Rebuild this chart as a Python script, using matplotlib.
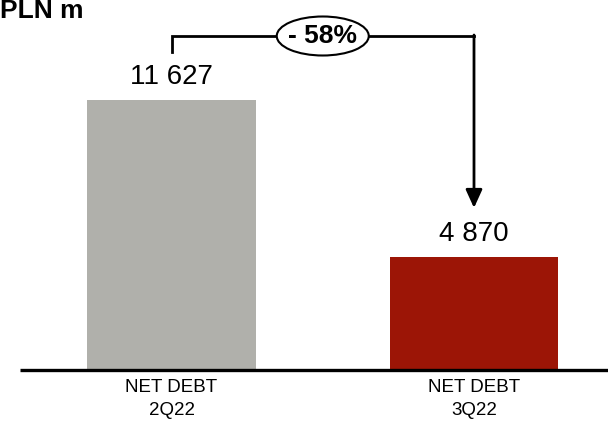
import matplotlib.pyplot as plt
from matplotlib.patches import Ellipse

categories = ["NET DEBT\n2Q22", "NET DEBT\n3Q22"]
values = [11627, 4870]
value_labels = ["11 627", "4 870"]
change_label = "- 58%"
unit_label = "PLN m"
colors = ["#B0B0AB", "#9C1506"]

plt.rcParams["font.family"] = ["Liberation Sans", "DejaVu Sans"]

fig = plt.figure(figsize=(6.08, 4.30), dpi=100)
ax = fig.add_axes([0, 60 / 430, 1, 370 / 430])
ax.axis("off")

px_per_unit = 302.5
ax.set_xlim(-171.5 / px_per_unit, (608 - 171.5) / px_per_unit)
ymax = 370 * values[0] / 270
ax.set_ylim(0, ymax)
py = ymax / 370  # data units per pixel

x = list(range(len(categories)))
ax.bar(x, values, width=168 / px_per_unit, color=colors)

# baseline
ax.plot([(20 - 171.5) / px_per_unit, (608 - 171.5) / px_per_unit], [0, 0],
        color="black", lw=2.4, solid_capstyle="butt", clip_on=False)

for xi, v, lab in zip(x, values, value_labels):
    ax.text(xi, v + 10 * py, lab, ha="center", va="bottom", fontsize=20)

for xi, cat in zip(x, categories):
    ax.text(xi, -9 * py, cat, ha="center", va="top", fontsize=13.5, linespacing=1.45)

# bracket with arrow
y_top = values[0] + 64 * py
y_start = values[0] + 48 * py
ax.plot([x[0], x[0], x[1]], [y_start, y_top, y_top], color="black", lw=2,
        solid_joinstyle="miter", clip_on=False)
ax.annotate("", xy=(x[1], values[1] + 49 * py), xytext=(x[1], y_top + 1 * py),
            arrowprops=dict(arrowstyle="-|>,head_length=1.1,head_width=0.5",
                            color="black", lw=2, shrinkA=0, shrinkB=0))
xm = (x[0] + x[1]) / 2
ax.add_patch(Ellipse((xm, y_top), 92 / px_per_unit, 39 * py, facecolor="white",
                     edgecolor="black", lw=1.5, zorder=5, clip_on=False))
ax.text(xm, y_top, change_label, ha="center", va="center", fontsize=19,
        fontweight="bold", zorder=6)

fig.text(0.0, 1.0 + 1 / 430, unit_label, ha="left", va="top", fontsize=19,
         fontweight="bold")

fig.savefig("out.png", dpi=100)
